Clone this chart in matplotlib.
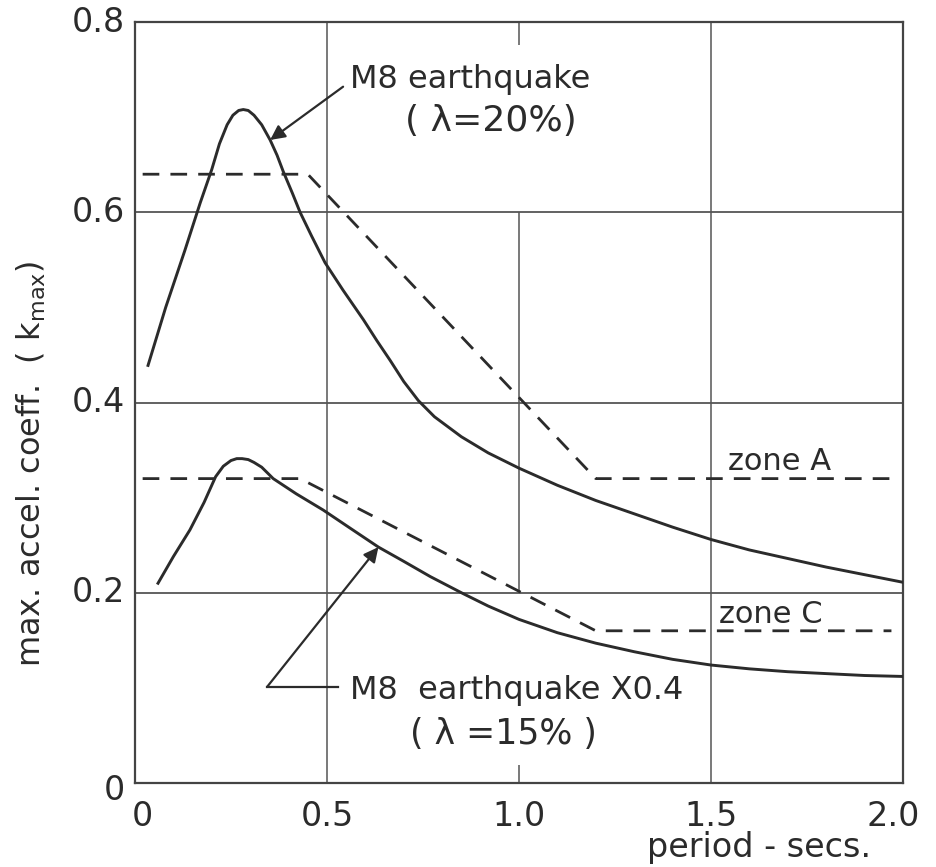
import matplotlib
matplotlib.use('Agg')
import matplotlib.pyplot as plt

# M8 earthquake spectrum, lambda = 20%
period_m8 = [0.034, 0.08, 0.13, 0.17, 0.20, 0.22, 0.24, 0.255, 0.27, 0.282,
             0.295, 0.31, 0.33, 0.352, 0.37, 0.386, 0.41, 0.43, 0.46, 0.495,
             0.542, 0.595, 0.63, 0.665, 0.70, 0.738, 0.78, 0.85, 0.92, 1.0,
             1.1, 1.2, 1.3, 1.4, 1.5, 1.6, 1.7, 1.8, 1.9, 2.0]
kmax_m8 = [0.439, 0.50, 0.56, 0.61, 0.645, 0.672, 0.692, 0.702, 0.707, 0.708,
           0.707, 0.702, 0.692, 0.676, 0.66, 0.643, 0.62, 0.60, 0.575, 0.547,
           0.518, 0.487, 0.465, 0.444, 0.422, 0.402, 0.385, 0.364, 0.347, 0.331,
           0.313, 0.297, 0.283, 0.269, 0.256, 0.245, 0.236, 0.227, 0.219, 0.211]

# M8 earthquake x 0.4, lambda = 15%
period_m8_04 = [0.06, 0.10, 0.143, 0.18, 0.21, 0.23, 0.25, 0.265, 0.279, 0.295,
                0.31, 0.33, 0.36, 0.42, 0.49, 0.56, 0.634, 0.70, 0.769, 0.855,
                0.92, 1.0, 1.1, 1.2, 1.3, 1.4, 1.5, 1.6, 1.7, 1.8, 1.9, 2.0]
kmax_m8_04 = [0.21, 0.238, 0.266, 0.295, 0.322, 0.333, 0.339, 0.341, 0.341, 0.340,
              0.337, 0.332, 0.32, 0.304, 0.287, 0.268, 0.248, 0.233, 0.217, 0.199,
              0.186, 0.172, 0.158, 0.147, 0.138, 0.130, 0.124, 0.120, 0.117, 0.115,
              0.113, 0.112]

# design spectra
period_zone_a = [0.02, 0.45, 1.2, 1.97]
kmax_zone_a = [0.64, 0.64, 0.32, 0.32]
period_zone_c = [0.02, 0.43, 1.2, 1.97]
kmax_zone_c = [0.32, 0.32, 0.16, 0.16]

x_ticks = [0, 0.5, 1.0, 1.5, 2.0]
x_tick_labels = ['0', '0.5', '1.0', '1.5', '2.0']
y_ticks = [0, 0.2, 0.4, 0.6, 0.8]
y_tick_labels = ['0', '0.2', '0.4', '0.6', '0.8']

ink = '#2b2b2b'
grid_c = '#555555'
plt.rcParams['font.family'] = ['DejaVu Sans']

fig = plt.figure(figsize=(9.36, 8.67), dpi=100)
ax = fig.add_axes([0.1442, 0.0969, 0.8205, 0.8777])
ax.set_xlim(0, 2.0)
ax.set_ylim(0, 0.8)

# grid lines, the 1.0 line is broken around the lettering
ax.axvline(0.5, color=grid_c, lw=1.1, zorder=1)
ax.axvline(1.5, color=grid_c, lw=1.1, zorder=1)
ax.vlines([1.0, 1.0, 1.0], [0.0, 0.2, 0.776], [0.019, 0.6, 0.8],
          color=grid_c, lw=1.1, zorder=1)
for gy in [0.2, 0.4, 0.6]:
    ax.axhline(gy, color=grid_c, lw=1.3, zorder=1)
for s in ax.spines.values():
    s.set_color('#444444')
    s.set_linewidth(1.6)

ax.plot(period_m8, kmax_m8, color=ink, lw=2.1, zorder=3)
ax.plot(period_m8_04, kmax_m8_04, color=ink, lw=2.1, zorder=3)
ax.plot(period_zone_a, kmax_zone_a, color=ink, lw=2.0, dashes=(6, 4), zorder=3)
ax.plot(period_zone_c, kmax_zone_c, color=ink, lw=2.0, dashes=(6, 4), zorder=3)

ax.set_xticks(x_ticks)
ax.set_yticks(y_ticks)
ax.set_xticklabels([])
ax.set_yticklabels([])
ax.tick_params(length=0)

tick_font = dict(fontsize=24, color=ink)
for xv, lab in zip(x_ticks, x_tick_labels):
    xx = xv
    if xv == 0:
        xx = 0.02
    if xv == 2.0:
        xx = 1.975
    ax.text(xx, -0.035, lab, ha='center', va='center', **tick_font)
for yv, lab in zip(y_ticks, y_tick_labels):
    yy = yv - 0.008 if yv == 0 else yv
    ax.text(-0.025, yy, lab, ha='right', va='center', **tick_font)

fig.text(0.033, 0.465, 'max. accel. coeff.  ( $\\mathregular{k_{max}}$)',
         rotation=90, ha='center', va='center', fontsize=23, color=ink)
fig.text(0.811, 0.022, 'period - secs.', ha='center', va='center',
         fontsize=24, color=ink)

box = dict(facecolor='white', edgecolor='none', pad=1)

# upper annotation
ax.text(0.56, 0.74, 'M8 earthquake', ha='left', va='center', fontsize=23,
        color=ink, bbox=box, zorder=4)
ax.text(0.928, 0.696, '( λ=20%)', ha='center', va='center', fontsize=26,
        color=ink, bbox=box, zorder=4)
ax.annotate('', xy=(0.352, 0.676), xytext=(0.542, 0.732),
            arrowprops=dict(arrowstyle='-|>', color=ink, lw=1.6,
                            mutation_scale=22, shrinkA=0, shrinkB=0), zorder=4)

# lower annotation
ax.text(0.56, 0.097, 'M8  earthquake X0.4', ha='left', va='center', fontsize=23,
        color=ink, bbox=box, zorder=4)
ax.text(0.96, 0.052, '( λ =15% )', ha='center', va='center', fontsize=25,
        color=ink, bbox=box, zorder=4)
ax.plot([0.529, 0.344], [0.101, 0.101], color=ink, lw=1.6, zorder=4)
ax.annotate('', xy=(0.634, 0.248), xytext=(0.344, 0.101),
            arrowprops=dict(arrowstyle='-|>', color=ink, lw=1.6,
                            mutation_scale=22, shrinkA=0, shrinkB=0), zorder=4)

# zone labels
ax.text(1.545, 0.338, 'zone A', ha='left', va='center', fontsize=22, color=ink)
ax.text(1.52, 0.177, 'zone C', ha='left', va='center', fontsize=22, color=ink)

fig.savefig('out.png', dpi=100, facecolor='white')
